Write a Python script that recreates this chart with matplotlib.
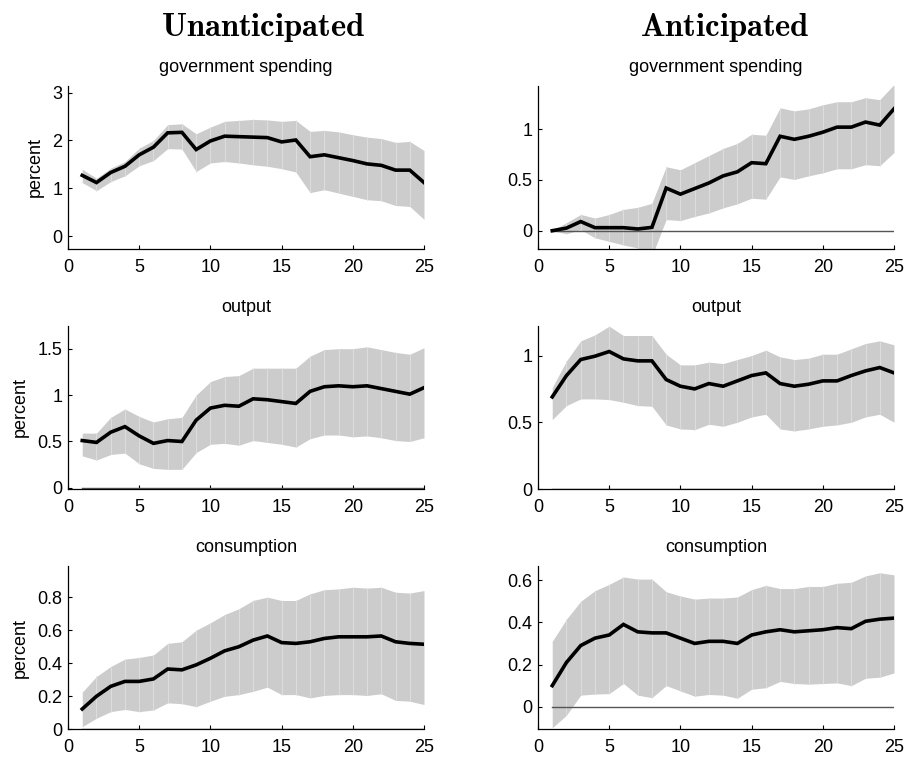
import matplotlib
matplotlib.use("Agg")
import matplotlib.pyplot as plt
import numpy as np

plt.rcParams['font.family'] = ['Liberation Sans', 'DejaVu Sans']
plt.rcParams['mathtext.fontset'] = 'cm'

horizon = list(range(1, 26))

# Unanticipated
u_gov = [1.27, 1.12, 1.33, 1.46, 1.70, 1.86, 2.16, 2.17, 1.81, 1.99, 2.09, 2.08, 2.07,
         2.06, 1.97, 2.01, 1.66, 1.70, 1.64, 1.58, 1.51, 1.48, 1.38, 1.38, 1.12]
u_gov_hi = [1.40, 1.21, 1.42, 1.56, 1.84, 2.00, 2.33, 2.35, 2.14, 2.28, 2.40, 2.42, 2.44,
            2.43, 2.40, 2.42, 2.19, 2.21, 2.18, 2.12, 2.07, 2.04, 1.96, 1.98, 1.79]
u_gov_lo = [1.12, 0.95, 1.14, 1.26, 1.47, 1.58, 1.83, 1.82, 1.35, 1.53, 1.56, 1.53, 1.49,
            1.46, 1.41, 1.34, 0.91, 0.97, 0.90, 0.83, 0.76, 0.74, 0.64, 0.62, 0.35]

u_out = [0.51, 0.49, 0.60, 0.66, 0.56, 0.48, 0.51, 0.50, 0.73, 0.86, 0.89, 0.88, 0.96,
         0.95, 0.93, 0.91, 1.04, 1.09, 1.10, 1.09, 1.10, 1.07, 1.04, 1.01, 1.08]
u_out_hi = [0.59, 0.59, 0.76, 0.85, 0.77, 0.71, 0.745, 0.76, 1.00, 1.145, 1.20, 1.21, 1.29,
            1.29, 1.29, 1.29, 1.42, 1.49, 1.50, 1.50, 1.52, 1.49, 1.46, 1.44, 1.51]
u_out_lo = [0.345, 0.30, 0.36, 0.375, 0.26, 0.21, 0.20, 0.20, 0.38, 0.47, 0.48, 0.46, 0.51,
            0.49, 0.47, 0.44, 0.53, 0.57, 0.57, 0.55, 0.56, 0.54, 0.51, 0.50, 0.54]

u_con = [0.123, 0.20, 0.26, 0.29, 0.29, 0.305, 0.365, 0.36, 0.39, 0.43, 0.475, 0.50, 0.54,
         0.565, 0.525, 0.52, 0.53, 0.55, 0.56, 0.56, 0.56, 0.565, 0.53, 0.52, 0.515]
u_con_hi = [0.225, 0.32, 0.38, 0.425, 0.435, 0.45, 0.52, 0.53, 0.60, 0.645, 0.695, 0.73, 0.78,
            0.80, 0.78, 0.78, 0.82, 0.845, 0.85, 0.86, 0.855, 0.86, 0.83, 0.825, 0.84]
u_con_lo = [0.016, 0.067, 0.107, 0.12, 0.107, 0.117, 0.16, 0.155, 0.137, 0.17, 0.20, 0.21, 0.23,
            0.255, 0.21, 0.21, 0.19, 0.205, 0.21, 0.21, 0.205, 0.215, 0.175, 0.17, 0.15]

# Anticipated
a_gov = [0.0, 0.026, 0.09, 0.03, 0.03, 0.03, 0.017, 0.033, 0.42, 0.36, 0.415, 0.47, 0.54,
         0.58, 0.67, 0.66, 0.93, 0.90, 0.93, 0.97, 1.02, 1.02, 1.07, 1.04, 1.20]
a_gov_hi = [0.0, 0.08, 0.16, 0.125, 0.16, 0.21, 0.23, 0.27, 0.63, 0.60, 0.67, 0.74, 0.81,
            0.86, 0.95, 0.94, 1.21, 1.18, 1.20, 1.24, 1.27, 1.27, 1.31, 1.29, 1.44]
a_gov_lo = [0.0, -0.03, 0.01, -0.07, -0.105, -0.14, -0.17, -0.25, 0.11, 0.10, 0.14, 0.175, 0.225,
            0.265, 0.32, 0.31, 0.53, 0.505, 0.54, 0.57, 0.61, 0.61, 0.65, 0.64, 0.77]

a_out = [0.69, 0.85, 0.97, 0.995, 1.03, 0.975, 0.96, 0.96, 0.82, 0.77, 0.75, 0.79, 0.77,
         0.81, 0.85, 0.87, 0.79, 0.77, 0.785, 0.81, 0.81, 0.85, 0.885, 0.91, 0.87]
a_out_hi = [0.76, 0.96, 1.11, 1.155, 1.22, 1.15, 1.15, 1.15, 1.01, 0.93, 0.93, 0.95, 0.94,
            0.97, 1.00, 1.04, 0.99, 0.97, 0.98, 1.01, 1.01, 1.05, 1.09, 1.11, 1.08]
a_out_lo = [0.52, 0.625, 0.675, 0.675, 0.67, 0.65, 0.625, 0.62, 0.48, 0.45, 0.445, 0.485, 0.47,
            0.50, 0.54, 0.56, 0.45, 0.435, 0.45, 0.47, 0.48, 0.50, 0.54, 0.56, 0.50]

a_con = [0.10, 0.21, 0.29, 0.325, 0.34, 0.39, 0.355, 0.35, 0.35, 0.325, 0.30, 0.31, 0.31,
         0.30, 0.34, 0.355, 0.365, 0.355, 0.36, 0.365, 0.375, 0.37, 0.405, 0.415, 0.42]
a_con_hi = [0.31, 0.415, 0.50, 0.55, 0.58, 0.615, 0.605, 0.605, 0.545, 0.525, 0.51, 0.515, 0.515,
            0.52, 0.555, 0.575, 0.56, 0.56, 0.57, 0.57, 0.585, 0.59, 0.62, 0.635, 0.625]
a_con_lo = [-0.10, -0.04, 0.055, 0.06, 0.062, 0.11, 0.055, 0.043, 0.10, 0.075, 0.05, 0.058, 0.055,
            0.04, 0.083, 0.09, 0.12, 0.11, 0.107, 0.11, 0.113, 0.10, 0.135, 0.14, 0.16]

column_titles = ['Unanticipated', 'Anticipated']
panel_titles = ['government spending', 'output', 'consumption']

panels = [
    # (row, col, mid, lo, hi, ylim, yticks, ytick labels, zero line)
    (0, 0, u_gov, u_gov_lo, u_gov_hi, (-0.27, 3.15), [0, 1, 2, 3], ['0', '1', '2', '3'], False),
    (0, 1, a_gov, a_gov_lo, a_gov_hi, (-0.18, 1.43), [0, 0.5, 1], ['0', '0.5', '1'], True),
    (1, 0, u_out, u_out_lo, u_out_hi, (-0.012, 1.75), [0, 0.5, 1, 1.5], ['0', '0.5', '1', '1.5'], True),
    (1, 1, a_out, a_out_lo, a_out_hi, (0, 1.225), [0, 0.5, 1], ['0', '0.5', '1'], True),
    (2, 0, u_con, u_con_lo, u_con_hi, (0, 0.99), [0, 0.2, 0.4, 0.6, 0.8], ['0', '0.2', '0.4', '0.6', '0.8'], True),
    (2, 1, a_con, a_con_lo, a_con_hi, (-0.107, 0.668), [0, 0.2, 0.4, 0.6], ['0', '0.2', '0.4', '0.6'], True),
]

fig = plt.figure(figsize=(9.09, 7.58), dpi=100)

lefts = [68 / 909, 538 / 909]
width = 356 / 909
bottoms = [1 - 249 / 758, 1 - 489 / 758, 1 - 729.3 / 758]
height = 163.5 / 758

x = np.array(horizon)
for row, col, mid, lo, hi, ylim, yt, ytl, zl in panels:
    ax = fig.add_axes([lefts[col], bottoms[row], width, height])
    ax.fill_between(x, lo, hi, color='#cccccc', linewidth=0, zorder=1)
    ax.vlines(x[1:-1], np.array(lo)[1:-1], np.array(hi)[1:-1], colors='#dedede',
              linewidth=0.7, zorder=1.5)
    if zl:
        ax.plot([x[0], x[-1]], [0, 0], color='#555555', linewidth=1.0, zorder=2)
    ax.plot(x, mid, color='black', linewidth=2.6, zorder=3, solid_joinstyle='miter')
    ax.set_xlim(0, 25)
    ax.set_ylim(*ylim)
    ax.set_xticks([0, 5, 10, 15, 20, 25])
    ax.set_yticks(yt)
    ax.set_yticklabels(ytl)
    for s in ['top', 'right']:
        ax.spines[s].set_visible(False)
    for s in ['left', 'bottom']:
        ax.spines[s].set_linewidth(0.9)
    ax.tick_params(direction='in', length=3, width=0.8, labelsize=13)
    ax.tick_params(axis='x', pad=7)
    ax.tick_params(axis='y', pad=4)
    ax.set_title(panel_titles[row], fontsize=13, pad=10)
    if col == 0:
        ax.set_ylabel('percent', fontsize=13, labelpad=6)

fig.text(263 / 909, 1 - 36 / 758, r'$\mathbf{' + column_titles[0] + '}$', fontsize=23.5,
         ha='center', va='baseline')
fig.text(725 / 909, 1 - 36 / 758, r'$\mathbf{' + column_titles[1] + '}$', fontsize=23.5,
         ha='center', va='baseline')

fig.savefig('out.png', dpi=100)
